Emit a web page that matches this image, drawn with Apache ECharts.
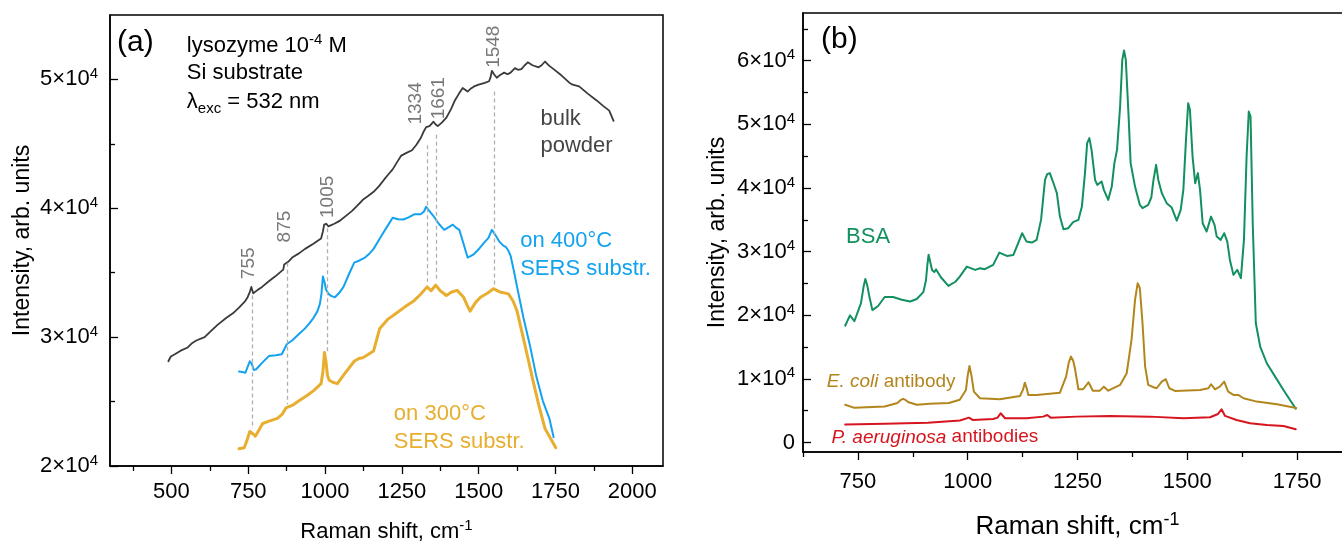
<!DOCTYPE html>
<html>
<head>
<meta charset="utf-8">
<script src="https://cdn.jsdelivr.net/npm/echarts@6/dist/echarts.min.js"></script>
<style>
  html, body { margin: 0; padding: 0; background: #fff; }
  #chart { width: 1342px; height: 543px; }
</style>
</head>
<body>
<div id="chart"></div>
<script>
// ---- (a) lysozyme spectra: [Raman shift (cm-1), intensity] ----
const bulkPowder = [
  [490, 28130], [498, 28500], [511, 28670], [530, 28950], [553, 29200], [568, 29550], [581, 29740],
  [608, 30000], [630, 30500], [650, 30950], [678, 31480], [700, 31850], [720, 32290], [740, 32800],
  [748, 33100], [755, 33500], [760, 33900], [766, 33400], [780, 33650], [795, 33900], [815, 34300],
  [837, 34700], [864, 35240], [867, 35640], [880, 35850], [893, 36180], [915, 36500], [935, 36850],
  [962, 37250], [987, 37650], [993, 38200], [997, 38730], [1004, 38800], [1011, 38600], [1030, 38800],
  [1046, 39000], [1070, 39450], [1088, 39800], [1105, 40200], [1123, 40660], [1140, 40950], [1158, 41280],
  [1175, 41700], [1192, 42220], [1205, 42600], [1220, 43020], [1235, 43600], [1248, 44090], [1265, 44300],
  [1283, 44500], [1298, 44950], [1311, 45430], [1322, 46000], [1329, 46300], [1340, 46380], [1346, 46380],
  [1353, 46720], [1360, 46500], [1367, 46380], [1380, 46650], [1395, 47040], [1410, 47700], [1423, 48390],
  [1436, 48900], [1448, 49330], [1456, 49200], [1464, 49060], [1475, 49300], [1485, 49460], [1500, 49600],
  [1520, 49730], [1534, 49860], [1539, 50200], [1543, 50670], [1550, 50400], [1559, 50130], [1570, 50350],
  [1583, 50530], [1594, 50400], [1604, 50530], [1618, 50880], [1628, 50750], [1639, 50800], [1650, 51100],
  [1660, 51330], [1675, 51100], [1695, 50940], [1705, 51100], [1716, 51390], [1730, 51050], [1744, 50800],
  [1770, 50300], [1795, 49750], [1806, 49590], [1827, 49460], [1855, 48900], [1883, 48390], [1905, 47950],
  [1925, 47580], [1939, 46780]
];
const sers400 = [
  [720, 27330], [730, 27300], [741, 27240], [748, 27700], [755, 28130], [762, 27900], [768, 27450],
  [776, 27510], [795, 28000], [817, 28530], [840, 28600], [859, 28670], [868, 29100], [876, 29470],
  [893, 29740], [915, 30250], [935, 30680], [950, 31100], [962, 31480], [975, 32000], [983, 32560],
  [988, 33300], [993, 34700], [998, 34300], [1003, 33700], [1011, 33360], [1020, 33200], [1032, 33090],
  [1045, 33400], [1060, 33900], [1078, 34900], [1095, 35780], [1112, 35950], [1130, 36180], [1145, 36500],
  [1158, 36850], [1172, 37400], [1185, 37920], [1200, 38500], [1220, 39260], [1238, 39150], [1255, 39130],
  [1272, 39300], [1290, 39530], [1311, 39530], [1322, 39750], [1329, 40120], [1336, 39900], [1353, 39400],
  [1370, 38800], [1388, 38330], [1400, 38500], [1416, 38730], [1426, 38500], [1437, 38330], [1450, 37300],
  [1464, 36180], [1475, 36300], [1485, 36450], [1503, 36900], [1520, 37390], [1532, 37700], [1543, 38330],
  [1555, 37900], [1568, 37390], [1580, 37100], [1589, 36980], [1597, 36700], [1604, 36310], [1615, 35100],
  [1625, 33900], [1646, 31480], [1667, 29340], [1688, 26920], [1709, 25040], [1730, 23700], [1744, 22230]
];
const sers300 = [
  [720, 21340], [737, 21420], [746, 22000], [755, 22680], [765, 22500], [773, 22310], [785, 22800],
  [797, 23300], [820, 23500], [845, 23700], [860, 24000], [873, 24510], [893, 24700], [914, 25040],
  [940, 25450], [963, 25850], [987, 26390], [993, 27300], [998, 28800], [1003, 28100], [1008, 27000],
  [1014, 26650], [1025, 26500], [1040, 26390], [1065, 27200], [1095, 28130], [1110, 28350], [1123, 28400],
  [1140, 28650], [1158, 28930], [1168, 29800], [1178, 30680], [1205, 31400], [1234, 31890], [1260, 32350],
  [1290, 32830], [1312, 33350], [1332, 33900], [1345, 33600], [1360, 34030], [1375, 33600], [1395, 33230],
  [1412, 33500], [1430, 33630], [1451, 33090], [1462, 32500], [1472, 32020], [1490, 32700], [1506, 33090],
  [1528, 33400], [1548, 33760], [1570, 33500], [1597, 33360], [1612, 32800], [1625, 32020], [1646, 29870],
  [1660, 28400], [1674, 26920], [1695, 24780], [1716, 22900], [1735, 22100], [1751, 21420]
];

// peak guides in (a): position and vertical extent in data units
const peakGuides = [
  { label: '755', x: 762, top: 33230, bottom: 22900 },
  { label: '875', x: 876, top: 35780, bottom: 24780 },
  { label: '1005', x: 1008, top: 38460, bottom: 28800 },
  { label: '1334', x: 1334, top: 44900, bottom: 34300 },
  { label: '1661', x: 1361, top: 45700, bottom: 34430 },
  { label: '1548', x: 1552, top: 49060, bottom: 33900 }
];
// where each peak number sits (x centre, lower end of the rotated text)
const peakLabelAnchors = [
  [752, 34500, '755'], [869, 37350, '875'], [1008, 39250, '1005'],
  [1295, 46500, '1334'], [1370, 46900, '1661'], [1549, 50900, '1548']
];

// ---- (b) BSA and antibody spectra ----
const bsa = [
  [721, 18350], [732, 19980], [742, 19050], [757, 21890], [763, 24500], [767, 25700], [771, 24800],
  [776, 22970], [783, 20800], [796, 21450], [811, 22860], [830, 22860], [850, 22430], [869, 22160],
  [884, 22540], [899, 23630], [905, 25500], [908, 27800], [911, 29510], [915, 28300], [919, 27060],
  [924, 26780], [928, 27200], [932, 27060], [939, 25970], [956, 24610], [972, 25260], [982, 26070],
  [998, 27640], [1017, 27120], [1028, 27390], [1039, 27230], [1058, 27910], [1072, 29840], [1089, 29320],
  [1104, 29480], [1115, 31320], [1124, 32890], [1134, 31570], [1146, 31420], [1157, 31840], [1167, 34980],
  [1176, 41270], [1181, 42170], [1187, 42330], [1194, 41010], [1203, 39180], [1210, 35500], [1218, 33520],
  [1229, 33670], [1240, 34620], [1252, 34980], [1260, 37070], [1267, 42330], [1272, 47040], [1277, 47830],
  [1282, 45990], [1290, 41270], [1295, 40490], [1305, 41010], [1310, 39700], [1320, 38130], [1328, 40220],
  [1334, 43900], [1340, 45990], [1347, 52800], [1352, 60140], [1356, 61600], [1360, 60140], [1366, 51760],
  [1371, 43900], [1381, 40220], [1392, 37340], [1398, 36820], [1411, 37340], [1418, 38500], [1423, 41270],
  [1429, 43630], [1434, 41270], [1442, 39180], [1453, 37610], [1464, 36980], [1476, 34870], [1485, 36560],
  [1491, 39700], [1497, 47560], [1502, 53330], [1506, 52280], [1512, 44940], [1518, 40750], [1524, 42330],
  [1529, 39700], [1535, 34460], [1544, 33150], [1554, 35500], [1562, 34200], [1567, 32360], [1576, 31840],
  [1584, 32890], [1591, 31570], [1597, 28690], [1605, 26340], [1614, 27120], [1622, 25820], [1629, 31840],
  [1635, 44940], [1640, 52010], [1644, 51230], [1649, 34460], [1656, 18740], [1666, 15060], [1681, 12450],
  [1700, 10350], [1719, 8250], [1747, 5300]
];
const ecoliAntibody = [
  [721, 5930], [742, 5440], [811, 5660], [840, 6210], [848, 6700], [853, 6860], [858, 6700], [864, 6370],
  [884, 5930], [913, 6100], [957, 6210], [982, 6700], [996, 8250], [1000, 10500], [1004, 12030],
  [1009, 10350], [1014, 7990], [1028, 6950], [1073, 6800], [1119, 7310], [1126, 8300], [1130, 9400],
  [1134, 8600], [1138, 7470], [1157, 7470], [1210, 7830], [1224, 10350], [1230, 12500], [1235, 13490],
  [1240, 12900], [1244, 11670], [1252, 8360], [1263, 8360], [1275, 9460], [1285, 8140], [1301, 8140],
  [1310, 8770], [1320, 8140], [1347, 9040], [1362, 10880], [1373, 16120], [1381, 22410], [1387, 25030],
  [1392, 24240], [1398, 18740], [1404, 11920], [1411, 9040], [1423, 8680], [1430, 8520], [1442, 9560],
  [1451, 9940], [1459, 8520], [1472, 8100], [1529, 8250], [1548, 8520], [1554, 9150], [1563, 8360],
  [1574, 8770], [1584, 9560], [1593, 7990], [1605, 7470], [1616, 7470], [1628, 6950], [1658, 6420],
  [1704, 6000], [1748, 5400]
];
const paeruginosaAntibodies = [
  [721, 2830], [811, 2940], [909, 3100], [982, 3450], [1003, 3900], [1011, 3540], [1058, 3700],
  [1068, 3900], [1075, 4590], [1085, 3800], [1134, 3800], [1172, 4060], [1181, 4320], [1189, 3900],
  [1248, 4060], [1324, 4170], [1415, 4060], [1491, 3800], [1552, 3960], [1570, 4480], [1578, 5220],
  [1586, 4170], [1612, 3540], [1643, 3020], [1681, 2750], [1719, 2590], [1747, 2080]
];

// ---- tick positions ----
const xTicksA = [500, 750, 1000, 1250, 1500, 1750, 2000];
const xMinorA = [375, 625, 875, 1125, 1375, 1625, 1875];
const yTicksA = [20000, 30000, 40000, 50000];
const yMinorA = [25000, 35000, 45000];
const xTicksB = [750, 1000, 1250, 1500, 1750];
const xMinorB = [625, 875, 1125, 1375, 1625];
const yTicksB = [0, 10000, 20000, 30000, 40000, 50000, 60000];
const yMinorB = [5000, 15000, 25000, 35000, 45000, 55000, 65000];

const FONT = '"Liberation Sans", Arial, Helvetica, sans-serif';

function sciLabel(v) {
  if (v === 0) return '{m|0}';
  const e = Math.floor(Math.log10(v) + 1e-9);
  const m = Math.round(v / Math.pow(10, e));
  return '{m|' + m + '×10}{e|' + e + '}';
}
const sciRich = {
  m: { fontSize: 22, fontFamily: FONT, color: '#000', lineHeight: 26 },
  e: { fontSize: 15, fontFamily: FONT, color: '#000', lineHeight: 16, verticalAlign: 'top' }
};
function titleRich(size) {
  return {
    n: { fontSize: size, fontFamily: FONT, color: '#000', lineHeight: size + 6 },
    s: { fontSize: Math.round(size * 0.68), fontFamily: FONT, color: '#000', lineHeight: Math.round(size * 0.7), verticalAlign: 'top' }
  };
}
const axisLineStyle = { color: '#000', width: 1.5 };
const tickLineStyle = { color: '#000', width: 1.3 };

function mainX(grid, min, max, ticks, nameGap, titleSize, labelMargin) {
  return {
    gridIndex: grid, type: 'value', min: min, max: max, position: 'bottom',
    axisLine: { show: true, onZero: false, lineStyle: axisLineStyle },
    axisTick: { show: true, inside: false, length: 8, customValues: ticks, lineStyle: tickLineStyle },
    axisLabel: { show: true, customValues: ticks, formatter: v => String(v), fontSize: 22, fontFamily: FONT, color: '#000', margin: labelMargin },
    splitLine: { show: false },
    name: '{n|Raman shift, cm}{s|-1}', nameLocation: 'middle', nameGap: nameGap,
    nameTextStyle: { rich: titleRich(titleSize) }
  };
}
function minorX(grid, min, max, ticks) {
  return {
    gridIndex: grid, type: 'value', min: min, max: max, position: 'bottom',
    axisLine: { show: false, onZero: false },
    axisTick: { show: true, inside: false, length: 5, customValues: ticks, lineStyle: tickLineStyle },
    axisLabel: { show: false }, splitLine: { show: false }
  };
}
function mainY(grid, min, max, ticks, nameGap, labelMargin) {
  return {
    gridIndex: grid, type: 'value', min: min, max: max, position: 'left',
    axisLine: { show: true, onZero: false, lineStyle: axisLineStyle },
    axisTick: { show: true, inside: true, length: 8, customValues: ticks, lineStyle: tickLineStyle },
    axisLabel: { show: true, customValues: ticks, formatter: sciLabel, rich: sciRich, margin: labelMargin },
    splitLine: { show: false },
    name: 'Intensity, arb. units', nameLocation: 'middle', nameRotate: 90, nameGap: nameGap,
    nameTextStyle: { fontSize: 23, fontFamily: FONT, color: '#000' }
  };
}
function minorY(grid, min, max, ticks) {
  return {
    gridIndex: grid, type: 'value', min: min, max: max, position: 'left',
    axisLine: { show: false, onZero: false },
    axisTick: { show: true, inside: true, length: 5, customValues: ticks, lineStyle: tickLineStyle },
    axisLabel: { show: false }, splitLine: { show: false }
  };
}
function spectrum(name, data, color, width, xi, yi) {
  return {
    name: name, type: 'line', data: data, xAxisIndex: xi, yAxisIndex: yi,
    showSymbol: false, symbol: 'none', smooth: false, z: 3, silent: true,
    lineStyle: { color: color, width: width, join: 'round', cap: 'round' }
  };
}

const chart = echarts.init(document.getElementById('chart'), null, { renderer: 'canvas' });

chart.setOption({
  animation: false,
  backgroundColor: '#fff',
  grid: [
    { left: 110, top: 15, width: 553, height: 451, show: true, borderColor: '#000', borderWidth: 1.5, outerBoundsMode: 'none', containLabel: false },
    { left: 803, top: 13, width: 549, height: 439, show: true, borderColor: '#000', borderWidth: 1.5, outerBoundsMode: 'none', containLabel: false }
  ],
  xAxis: [
    mainX(0, 300, 2100, xTicksA, 52, 22, 15),
    minorX(0, 300, 2100, xMinorA),
    mainX(1, 625, 1875, xTicksB, 59, 26, 19),
    minorX(1, 625, 1875, xMinorB)
  ],
  yAxis: [
    mainY(0, 20000, 55000, yTicksA, 76, 12),
    minorY(0, 20000, 55000, yMinorA),
    mainY(1, -1500, 67500, yTicksB, 74, 8),
    minorY(1, -1500, 67500, yMinorB)
  ],
  series: [
    {
      name: 'peak guides', type: 'line', data: [], xAxisIndex: 0, yAxisIndex: 0, z: 1,
      markLine: {
        silent: true, symbol: 'none', animation: false,
        lineStyle: { type: [4, 3], color: '#b0b0b0', width: 1.3 },
        label: { show: false },
        data: peakGuides.map(p => [{ coord: [p.x, p.top] }, { coord: [p.x, p.bottom] }])
      }
    },
    spectrum('bulk powder', bulkPowder, '#3a3a3a', 1.8, 0, 0),
    spectrum('on 400°C SERS substr.', sers400, '#13a2ef', 2, 0, 0),
    spectrum('on 300°C SERS substr.', sers300, '#e8ae2f', 3, 0, 0),
    {
      name: 'peak numbers', type: 'scatter', data: peakLabelAnchors, xAxisIndex: 0, yAxisIndex: 0,
      symbolSize: 0, silent: true, z: 4,
      label: {
        show: true, position: 'inside', rotate: 90, align: 'left', verticalAlign: 'middle',
        formatter: p => p.data[2], fontSize: 19, fontFamily: FONT, color: '#555'
      }
    },
    spectrum('BSA', bsa, '#12905f', 2, 2, 2),
    spectrum('E. coli antibody', ecoliAntibody, '#b3861d', 2, 2, 2),
    spectrum('P. aeruginosa antibodies', paeruginosaAntibodies, '#d7151e', 2, 2, 2)
  ]
});

// ---- text annotations anchored in data space ----
function rich(size, color) {
  return {
    t: { fontSize: size, fontFamily: FONT, fill: color, lineHeight: size + 6 },
    i: { fontSize: size, fontFamily: FONT, fill: color, fontStyle: 'italic', lineHeight: size + 6 },
    s: { fontSize: Math.round(size * 0.68), fontFamily: FONT, fill: color, lineHeight: Math.round(size * 0.7), verticalAlign: 'top' },
    b: { fontSize: Math.round(size * 0.68), fontFamily: FONT, fill: color, lineHeight: Math.round(size * 0.7), verticalAlign: 'bottom' }
  };
}
const annotations = [
  { grid: 0, at: [323, 52810], text: '{t|(a)}', size: 30, color: '#000' },
  { grid: 0, at: [550, 52600], text: '{t|lysozyme 10}{s|-4}{t| M}', size: 22, color: '#000' },
  { grid: 0, at: [550, 50500], text: '{t|Si substrate}', size: 22, color: '#000' },
  { grid: 0, at: [550, 48250], text: '{t|λ}{b|exc}{t| = 532 nm}', size: 22, color: '#000' },
  { grid: 0, at: [1701, 46950], text: '{t|bulk}', size: 22, color: '#444' },
  { grid: 0, at: [1701, 44800], text: '{t|powder}', size: 22, color: '#444' },
  { grid: 0, at: [1635, 37450], text: '{t|on 400°C}', size: 22, color: '#13a2ef' },
  { grid: 0, at: [1635, 35300], text: '{t|SERS substr.}', size: 22, color: '#13a2ef' },
  { grid: 0, at: [1224, 24050], text: '{t|on 300°C}', size: 22, color: '#e8ae2f' },
  { grid: 0, at: [1224, 21900], text: '{t|SERS substr.}', size: 22, color: '#e8ae2f' },
  { grid: 1, at: [666, 63260], text: '{t|(b)}', size: 30, color: '#000' },
  { grid: 1, at: [723, 32230], text: '{t|BSA}', size: 22, color: '#12905f' },
  { grid: 1, at: [679, 9470], text: '{i|E. coli}{t| antibody}', size: 19, color: '#b3861d' },
  { grid: 1, at: [690, 820], text: '{i|P. aeruginosa}{t| antibodies}', size: 19, color: '#d7151e' }
];
chart.setOption({
  graphic: annotations.map(a => {
    const p = chart.convertToPixel({ gridIndex: a.grid }, a.at);
    return {
      type: 'text', x: p[0], y: p[1], silent: true, z: 10,
      style: { text: a.text, rich: rich(a.size, a.color), align: 'left', verticalAlign: 'middle', fill: a.color, fontFamily: FONT, fontSize: a.size }
    };
  })
});
</script>
</body>
</html>
